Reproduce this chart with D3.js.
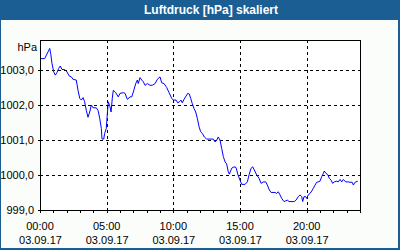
<!DOCTYPE html>
<html>
<head>
<meta charset="utf-8">
<script src="https://cdn.jsdelivr.net/npm/d3@7"></script>
<style>
  body { margin: 0; background: #1b5e94; }
  svg { display: block; }
  text { font-family: "Liberation Sans", Arial, sans-serif; }
</style>
</head>
<body>
<script>
// data: hours since 00:00 on 03.09.17, pressure in hPa
const hours = [
  0.0, 0.35, 0.73, 0.80, 0.90, 1.03, 1.15, 1.28, 1.40, 1.52, 1.65, 1.85, 2.03, 2.18, 2.35, 2.48,
  2.72, 2.85, 2.98, 3.10, 3.23, 3.35, 3.47, 3.60, 3.73, 3.85, 3.98, 4.22, 4.35, 4.48, 4.60, 4.65,
  4.78, 4.85, 4.97, 5.03, 5.12, 5.25, 5.33, 5.42, 5.50, 5.68, 5.87, 6.00, 6.25, 6.38, 6.55, 6.75,
  6.88, 7.00, 7.18, 7.30, 7.37, 7.50, 7.63, 7.75, 7.88, 8.05, 8.25, 8.42, 8.63, 8.80, 9.00, 9.13,
  9.30, 9.50, 9.68, 9.88, 10.00, 10.20, 10.33, 10.45, 10.58, 10.67, 10.80, 10.95, 11.08, 11.20,
  11.30, 11.42, 11.55, 11.68, 11.80, 11.93, 12.05, 12.17, 12.32, 12.50, 13.00, 13.13, 13.25, 13.37,
  13.50, 13.63, 13.75, 13.88, 14.00, 14.12, 14.20, 14.38, 14.55, 14.70, 14.85, 15.00, 15.13, 15.38,
  15.55, 15.68, 15.83, 15.95, 16.07, 16.25, 16.43, 16.58, 16.75, 16.93, 17.05, 17.20, 17.33, 17.63,
  17.75, 17.87, 18.00, 18.13, 18.30, 18.43, 18.55, 18.68, 19.07, 19.20, 19.37, 19.50, 19.63, 19.70,
  19.80, 19.93, 20.00, 20.12, 20.25, 20.38, 20.50, 20.63, 20.75, 20.87, 21.00, 21.13, 21.25, 21.32,
  21.45, 21.58, 21.70, 21.83, 21.95, 22.07, 22.25, 22.37, 22.50, 22.63, 22.75, 22.93, 23.12, 23.25,
  23.42, 23.50, 23.63, 23.83
];
const pressure = [
  1003.31, 1003.31, 1003.60, 1003.46, 1003.17, 1002.93, 1002.84, 1002.92, 1003.03, 1003.10, 1003.00, 1003.00, 1002.93, 1002.82, 1002.79, 1002.72,
  1002.70, 1002.41, 1002.18, 1002.13, 1002.20, 1002.08, 1001.84, 1001.64, 1001.79, 1001.99, 1001.91, 1001.91, 1001.84, 1001.61, 1001.32, 1001.02,
  1001.02, 1001.18, 1001.32, 1001.64, 1002.08, 1001.94, 1001.79, 1002.18, 1002.41, 1002.34, 1002.22, 1002.32, 1002.34, 1002.32, 1002.15, 1002.22,
  1002.22, 1002.36, 1002.60, 1002.70, 1002.60, 1002.77, 1002.70, 1002.65, 1002.55, 1002.60, 1002.55, 1002.55, 1002.60, 1002.72, 1002.79, 1002.62,
  1002.60, 1002.49, 1002.34, 1002.18, 1002.13, 1002.13, 1002.05, 1002.08, 1002.13, 1002.05, 1002.15, 1002.24, 1002.32, 1002.30,
  1002.18, 1002.03, 1001.89, 1001.79, 1001.61, 1001.37, 1001.23, 1001.18, 1001.08, 1001.02, 1001.02, 1000.94, 1000.99, 1001.08,
  1000.99, 1000.75, 1000.52, 1000.37, 1000.31, 1000.09, 1000.02, 1000.19, 1000.23, 1000.21, 1000.00, 999.85, 999.73, 999.73,
  999.80, 1000.00, 1000.19, 1000.23, 1000.14, 1000.00, 999.90, 999.76, 999.80, 999.80, 999.71, 999.57, 999.50, 999.50,
  999.47, 999.52, 999.43, 999.33, 999.24, 999.26, 999.28, 999.24, 999.24, 999.28, 999.38, 999.43, 999.38, 999.24,
  999.38, 999.38, 999.33, 999.43, 999.47, 999.54, 999.62, 999.71, 999.79, 999.80, 999.82, 999.95, 1000.04, 1000.11,
  1000.04, 1000.01, 999.90, 999.85, 999.76, 999.80, 999.82, 999.80, 999.87, 999.80, 999.87, 999.80, 999.80, 999.79,
  999.79, 999.71, 999.79, 999.82
];

const title = "Luftdruck [hPa] skaliert";
const unit = "hPa";
const yTicks = [999, 1000, 1001, 1002, 1003];
const xTicks = [0, 5, 10, 15, 20];
const dateLabel = "03.09.17";

const w = 400;
const h = 250;
const margin = { top: 40, right: 40, bottom: 40, left: 40 };

const xScale = d3.scaleLinear().domain([0, 24]).range([margin.left, w - margin.right]);
const yScale = d3.scaleLinear().domain([999, 1003.84]).range([h - margin.bottom, margin.top]);

const svg = d3.select("body").append("svg").attr("width", w).attr("height", h);

// light panel inside the blue frame
svg.append("rect")
  .attr("x", 1).attr("y", 20)
  .attr("width", w - 3).attr("height", h - 22)
  .attr("fill", "#fbfdfb");

// title
svg.append("text")
  .attr("x", 211)
  .attr("y", 14)
  .attr("text-anchor", "middle")
  .attr("fill", "#ffffff")
  .attr("font-weight", "bold")
  .attr("font-size", 12)
  .text(title);

// plot background
svg.append("rect")
  .attr("x", margin.left).attr("y", margin.top)
  .attr("width", w - margin.left - margin.right)
  .attr("height", h - margin.top - margin.bottom)
  .attr("fill", "#ffffff");

// dashed grid
const grid = svg.append("g")
  .attr("stroke", "#000")
  .attr("stroke-dasharray", "3,3")
  .attr("shape-rendering", "crispEdges");

grid.selectAll(".hgrid")
  .data(yTicks.slice(1))
  .enter()
  .append("line")
  .attr("x1", margin.left).attr("x2", w - margin.right)
  .attr("y1", (d) => Math.round(yScale(d)) + 0.5)
  .attr("y2", (d) => Math.round(yScale(d)) + 0.5);

grid.selectAll(".vgrid")
  .data(xTicks.slice(1))
  .enter()
  .append("line")
  .attr("y1", margin.top).attr("y2", h - margin.bottom)
  .attr("x1", (d) => Math.round(xScale(d)) + 0.5)
  .attr("x2", (d) => Math.round(xScale(d)) + 0.5);

// pressure line
const line = d3.line()
  .x((d, i) => xScale(hours[i]))
  .y((d) => yScale(d));

svg.append("path")
  .datum(pressure)
  .attr("fill", "none")
  .attr("stroke", "#0000ff")
  .attr("stroke-width", 1)
  .attr("d", line);

// frame
svg.append("rect")
  .attr("x", margin.left + 0.5).attr("y", margin.top + 0.5)
  .attr("width", w - margin.left - margin.right)
  .attr("height", h - margin.top - margin.bottom)
  .attr("fill", "none")
  .attr("stroke", "#000")
  .attr("shape-rendering", "crispEdges");

// x axis: hourly minor ticks, labels every 5 hours
const xAxis = d3.axisBottom(xScale)
  .tickValues(d3.range(0, 25, 1))
  .tickSize(3)
  .tickFormat("");

svg.append("g")
  .attr("class", "x axis")
  .attr("transform", `translate(0, ${h - margin.bottom})`)
  .call(xAxis)
  .call((g) => g.select(".domain").remove())
  .call((g) => g.selectAll("line").attr("shape-rendering", "crispEdges"));

const xLabels = svg.append("g").attr("font-size", 11).attr("fill", "#000").attr("text-anchor", "middle");
xLabels.selectAll(".time")
  .data(xTicks)
  .enter()
  .append("text")
  .attr("x", (d) => xScale(d))
  .attr("y", 229.5)
  .text((d) => d3.format("02")(d) + ":00");
xLabels.selectAll(".date")
  .data(xTicks)
  .enter()
  .append("text")
  .attr("x", (d) => xScale(d) + 0.5)
  .attr("y", 243.5)
  .text(dateLabel);

// y axis
const yAxis = d3.axisLeft(yScale)
  .tickValues(yTicks)
  .tickSize(2)
  .tickPadding(4)
  .tickFormat((d) => d3.format(".1f")(d).replace(".", ","));

svg.append("g")
  .attr("class", "y axis")
  .attr("transform", `translate(${margin.left}, 0)`)
  .call(yAxis)
  .call((g) => g.select(".domain").remove())
  .call((g) => g.selectAll("line").attr("shape-rendering", "crispEdges"))
  .call((g) => g.selectAll("text")
    .attr("font-family", "Liberation Sans, Arial, sans-serif")
    .attr("font-size", 11)
    .attr("fill", "#000")
    .attr("dy", "0.36em"));

svg.append("text")
  .attr("x", 37)
  .attr("y", 51)
  .attr("text-anchor", "end")
  .attr("font-size", 11)
  .text(unit);
</script>
</body>
</html>
